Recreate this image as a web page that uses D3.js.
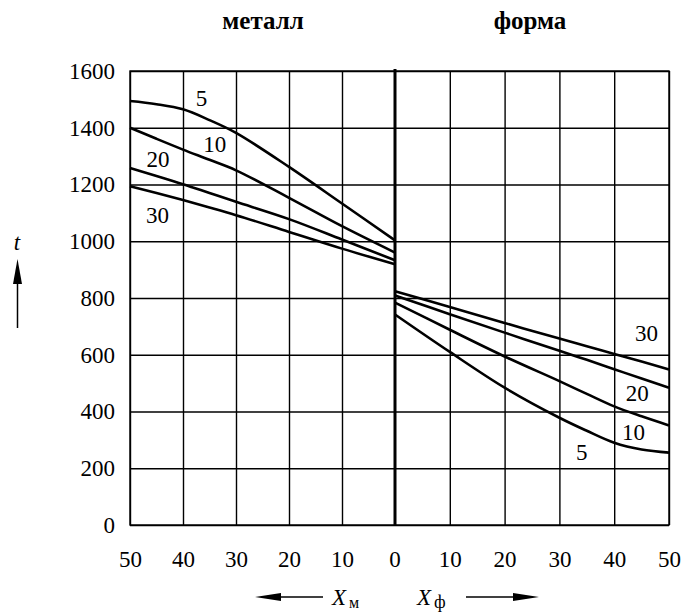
<!DOCTYPE html>
<html>
<head>
<meta charset="utf-8">
<script src="https://cdn.jsdelivr.net/npm/d3@7"></script>
<style>
  body { margin: 0; background: #fff; }
  svg text { font-family: "Liberation Serif", "Times New Roman", Times, serif; fill: #000; }
</style>
</head>
<body>
<svg id="chart" width="685" height="615"></svg>
<script>
// ticks
const tTicks = [0, 200, 400, 600, 800, 1000, 1200, 1400, 1600];
const metalTicks = [50, 40, 30, 20, 10];
const formTicks = [10, 20, 30, 40, 50];

// metal side, distance X_м
const metalX = [50, 45, 40, 35, 30, 20, 10, 0];
const metal5 = [1494, 1483, 1465, 1427, 1382, 1262, 1133, 1003];
const metal10 = [1400, 1361, 1323, 1287, 1250, 1153, 1053, 960];
const metal20 = [1258, 1230, 1201, 1170, 1139, 1078, 1006, 933];
const metal30 = [1194, 1170, 1145, 1119, 1092, 1033, 974, 919];

// mould side, distance X_ф
const formX = [0, 10, 20, 30, 35, 40, 45, 50];
const form5 = [742, 610, 484, 378, 332, 290, 266, 255];
const form10 = [784, 688, 594, 507, 462, 418, 383, 351];
const form20 = [809, 743, 678, 614, 582, 549, 516, 484];
const form30 = [824, 768, 712, 657, 630, 603, 576, 548];

// curve labels in data units
const metalLabels = [["5", 36.5, 1504], ["10", 34, 1342], ["20", 44.7, 1290], ["30", 44.8, 1093]];
const formLabels = [["30", 45.9, 678], ["20", 44.2, 464], ["10", 43.5, 329], ["5", 34.1, 258]];

const svg = d3.select("#chart");
const pLeft = 130, pMid = 395, pRight = 669, pTop = 71, pBottom = 525;

const xm = d3.scaleLinear().domain([50, 0]).range([pLeft, pMid]);
const xf = d3.scaleLinear().domain([0, 50]).range([pMid, pRight]);
const y = d3.scaleLinear().domain([0, 1600]).range([pBottom, pTop]);

const fontSize = 23;
const fmt = d3.format("d");

// horizontal grid + t labels
const yAxis = svg.append("g")
    .attr("transform", `translate(${pLeft},0)`)
    .call(d3.axisLeft(y).tickValues(tTicks).tickFormat(fmt).tickSize(-(pRight - pLeft)).tickPadding(15));

// vertical grid + x labels
const xmAxis = svg.append("g")
    .attr("transform", `translate(0,${pBottom})`)
    .call(d3.axisBottom(xm).tickValues(metalTicks).tickFormat(fmt).tickSize(-(pBottom - pTop)).tickPadding(26));

const xfAxis = svg.append("g")
    .attr("transform", `translate(0,${pBottom})`)
    .call(d3.axisBottom(xf).tickValues(formTicks).tickFormat(fmt).tickSize(-(pBottom - pTop)).tickPadding(26));

[yAxis, xmAxis, xfAxis].forEach(g => {
    g.attr("font-family", null);
    g.select(".domain").remove();
    g.selectAll("line").attr("stroke", "#000").attr("stroke-width", 1.4);
    g.selectAll("text").attr("font-size", fontSize);
});

// frame
svg.append("rect")
    .attr("x", pLeft).attr("y", pTop)
    .attr("width", pRight - pLeft).attr("height", pBottom - pTop)
    .attr("fill", "none").attr("stroke", "#000").attr("stroke-width", 1.4);

// zero label and the thick centre line
svg.append("text")
    .attr("x", xm(0)).attr("y", pBottom + 26).attr("dy", "0.71em")
    .attr("text-anchor", "middle").attr("font-size", fontSize)
    .text("0");

svg.append("line")
    .attr("x1", xm(0)).attr("x2", xm(0))
    .attr("y1", pTop - 2).attr("y2", pBottom)
    .attr("stroke", "#000").attr("stroke-width", 3);

// curves
const lineM = d3.line().x((d, i) => xm(metalX[i])).y(d => y(d)).curve(d3.curveCatmullRom.alpha(0.5));
const lineF = d3.line().x((d, i) => xf(formX[i])).y(d => y(d)).curve(d3.curveCatmullRom.alpha(0.5));

svg.selectAll(".metal")
    .data([metal5, metal10, metal20, metal30])
    .enter().append("path")
    .attr("class", "metal")
    .attr("fill", "none").attr("stroke", "#000").attr("stroke-width", 2.6)
    .attr("d", lineM);

svg.selectAll(".form")
    .data([form5, form10, form20, form30])
    .enter().append("path")
    .attr("class", "form")
    .attr("fill", "none").attr("stroke", "#000").attr("stroke-width", 2.6)
    .attr("d", lineF);

svg.selectAll(".mlab")
    .data(metalLabels)
    .enter().append("text")
    .attr("x", d => xm(d[1])).attr("y", d => y(d[2])).attr("dy", "0.35em")
    .attr("text-anchor", "middle").attr("font-size", fontSize)
    .text(d => d[0]);

svg.selectAll(".flab")
    .data(formLabels)
    .enter().append("text")
    .attr("x", d => xf(d[1])).attr("y", d => y(d[2])).attr("dy", "0.35em")
    .attr("text-anchor", "middle").attr("font-size", fontSize)
    .text(d => d[0]);

// titles
svg.append("text")
    .attr("x", 263).attr("y", 29)
    .attr("text-anchor", "middle").attr("font-size", 25).attr("font-weight", "bold")
    .text("металл");
svg.append("text")
    .attr("x", 530).attr("y", 29)
    .attr("text-anchor", "middle").attr("font-size", 25).attr("font-weight", "bold")
    .text("форма");

// t axis name with arrow
svg.append("text")
    .attr("x", 17).attr("y", 250)
    .attr("text-anchor", "middle").attr("font-size", fontSize).attr("font-style", "italic")
    .text("t");
svg.append("line").attr("x1", 17.5).attr("x2", 17.5).attr("y1", 280).attr("y2", 328)
    .attr("stroke", "#000").attr("stroke-width", 1.5);
svg.append("path").attr("d", "M17.5,259 L13,284 L22,284 Z").attr("fill", "#000");

// X_м and X_ф with arrows
const xName = svg.append("g").attr("font-size", fontSize);
const xmText = xName.append("text").attr("x", 332).attr("y", 605);
xmText.append("tspan").attr("font-style", "italic").text("X");
xmText.append("tspan").attr("dx", 3).attr("dy", 3).attr("font-size", 16).text("м");
const xfText = xName.append("text").attr("x", 417).attr("y", 605);
xfText.append("tspan").attr("font-style", "italic").text("X");
xfText.append("tspan").attr("dx", 3).attr("dy", 3).attr("font-size", 18).text("ф");

svg.append("line").attr("x1", 278).attr("x2", 323).attr("y1", 597).attr("y2", 597)
    .attr("stroke", "#000").attr("stroke-width", 1.5);
svg.append("path").attr("d", "M255,597 L281,593 L281,601 Z").attr("fill", "#000");
svg.append("line").attr("x1", 466).attr("x2", 516).attr("y1", 597).attr("y2", 597)
    .attr("stroke", "#000").attr("stroke-width", 1.5);
svg.append("path").attr("d", "M539,597 L513,593 L513,601 Z").attr("fill", "#000");
</script>
</body>
</html>
